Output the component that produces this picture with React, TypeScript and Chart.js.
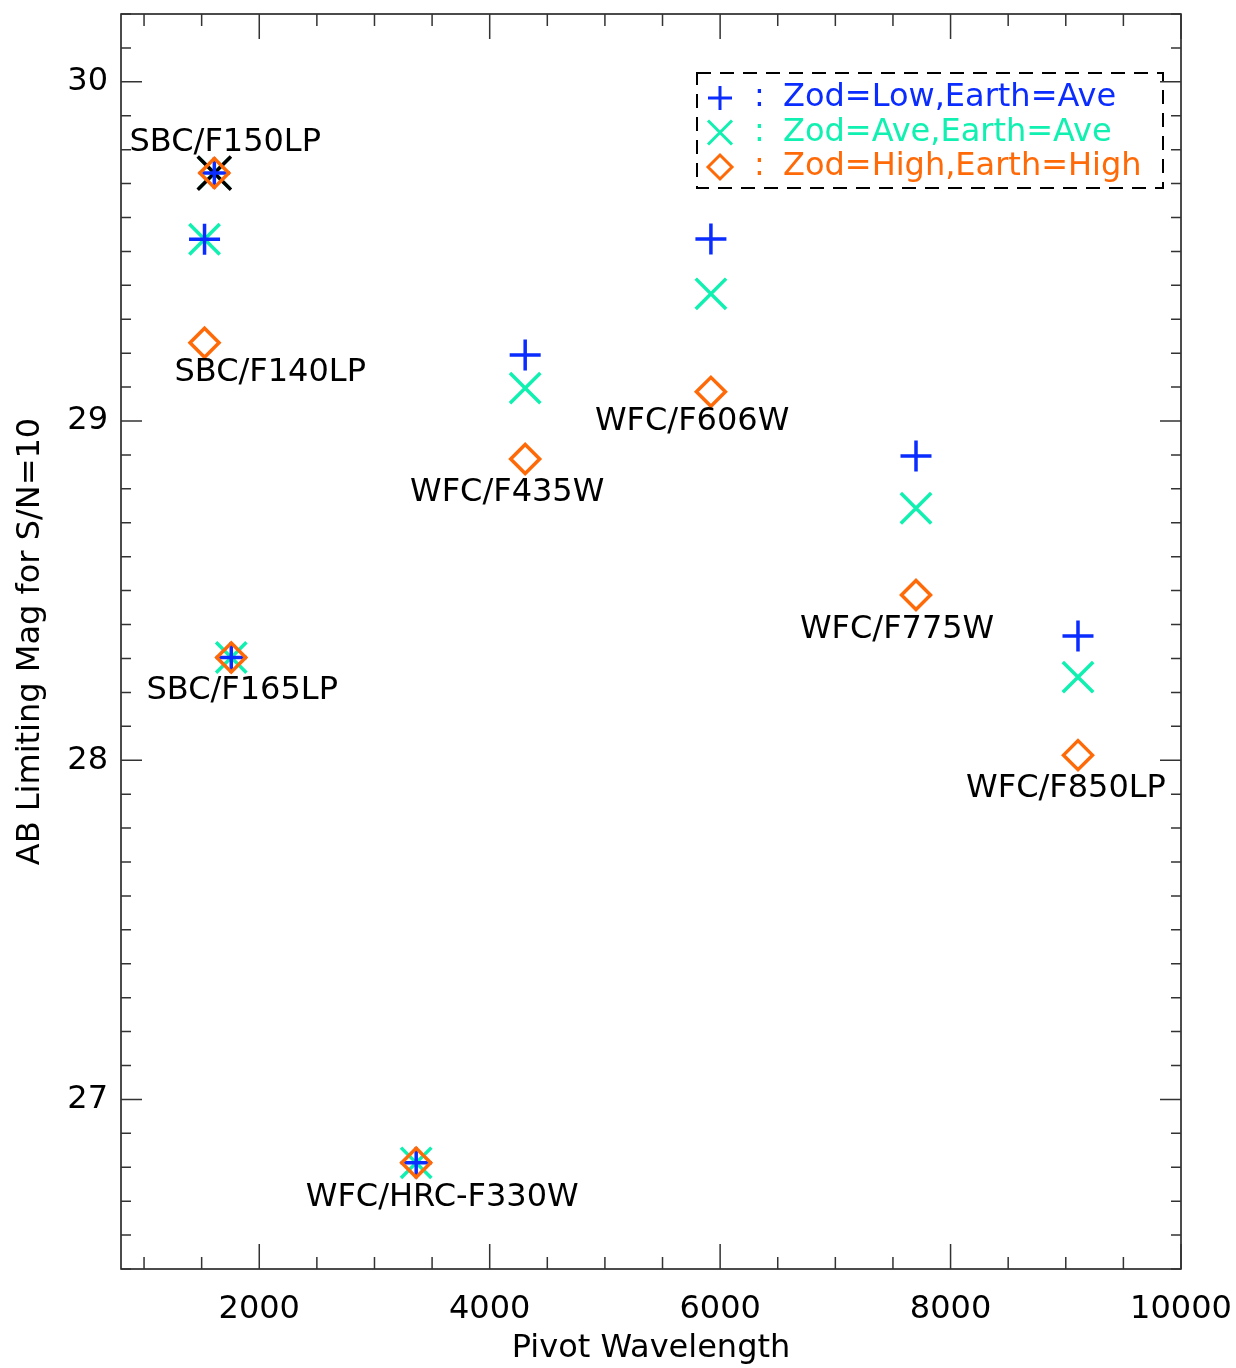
import React, { useEffect, useRef } from "react";
import { Chart, registerables } from "chart.js";

Chart.register(...registerables);

// ---- data ----
const filterNames = [
  "SBC/F150LP",
  "SBC/F140LP",
  "SBC/F165LP",
  "WFC/HRC-F330W",
  "WFC/F435W",
  "WFC/F606W",
  "WFC/F775W",
  "WFC/F850LP",
];
const pivotWavelength = [1610, 1525, 1757, 3362, 4308, 5920, 7700, 9106];
const magZodLow = [29.731, 29.536, 28.303, 26.813, 29.195, 29.537, 28.897, 28.366];
const magZodAve = [29.731, 29.536, 28.303, 26.813, 29.097, 29.375, 28.743, 28.245];
const magZodHigh = [29.731, 29.231, 28.303, 26.813, 28.888, 29.086, 28.487, 28.015];
// extra black marker at SBC/F150LP
const markWave = [1610];
const markMag = [29.731];
// filter label anchors (data coordinates)
const labelWave = [1705, 2095, 1852, 3588, 4152, 5757, 7536, 9002];
const labelMag = [29.829, 29.15, 28.215, 26.72, 28.799, 29.006, 28.395, 27.926];

const legendLabels = [
  "Zod=Low,Earth=Ave",
  "Zod=Ave,Earth=Ave",
  "Zod=High,Earth=High",
];

const xTickValues = [2000, 4000, 6000, 8000, 10000];
const yTickValues = [27, 28, 29, 30];
const xMinorStep = 500;
const yMinorStep = 0.1;

const BLUE = "#0a2cff";
const GREEN = "#10f0b0";
const ORANGE = "#ff6a08";
const FONT = "'DejaVu Sans', sans-serif";

const pts = (xs: number[], ys: number[]) => xs.map((x, i) => ({ x, y: ys[i] }));

const framePlugin = {
  id: "frame",
  afterDatasetsDraw(chart: any) {
    const { ctx, chartArea: a, scales } = chart;
    const xs = scales.x;
    const ys = scales.y;
    ctx.save();
    // frame
    ctx.strokeStyle = "#111";
    ctx.lineWidth = 1.5;
    ctx.strokeRect(a.left, a.top, a.right - a.left, a.bottom - a.top);
    // ticks
    ctx.strokeStyle = "#333";
    ctx.lineWidth = 1.5;
    const isMajor = (v: number, arr: number[]) => arr.some((t) => Math.abs(t - v) < 1e-6);
    for (let v = Math.ceil(xs.min / xMinorStep) * xMinorStep; v <= xs.max + 1e-6; v += xMinorStep) {
      const px = xs.getPixelForValue(v);
      const len = isMajor(v, xTickValues) ? 25 : 12;
      ctx.beginPath();
      ctx.moveTo(px, a.bottom);
      ctx.lineTo(px, a.bottom - len);
      ctx.moveTo(px, a.top);
      ctx.lineTo(px, a.top + len);
      ctx.stroke();
    }
    const n0 = Math.ceil(ys.min / yMinorStep - 1e-6);
    const n1 = Math.floor(ys.max / yMinorStep + 1e-6);
    for (let n = n0; n <= n1; n++) {
      const v = n * yMinorStep;
      const py = ys.getPixelForValue(v);
      const len = isMajor(v, yTickValues) ? 21 : 10;
      ctx.beginPath();
      ctx.moveTo(a.left, py);
      ctx.lineTo(a.left + len, py);
      ctx.moveTo(a.right, py);
      ctx.lineTo(a.right - len, py);
      ctx.stroke();
    }
    // filter labels
    ctx.fillStyle = "#000";
    ctx.font = `32px ${FONT}`;
    ctx.textAlign = "center";
    ctx.textBaseline = "middle";
    filterNames.forEach((name, i) => {
      ctx.fillText(name, xs.getPixelForValue(labelWave[i]), ys.getPixelForValue(labelMag[i]) + 3);
    });
    // legend
    const bx0 = a.left + 576, by0 = a.top + 59, bx1 = a.left + 1042, by1 = a.top + 174;
    ctx.setLineDash([14, 9]);
    ctx.strokeStyle = "#000";
    ctx.lineWidth = 2;
    ctx.strokeRect(bx0, by0, bx1 - bx0, by1 - by0);
    ctx.setLineDash([]);
    const ds = chart.data.datasets;
    ctx.textAlign = "left";
    for (let i = 0; i < 3; i++) {
      const cy = by0 + 25 + i * 34.5;
      const d = ds[i];
      ctx.strokeStyle = d.borderColor;
      ctx.lineWidth = 3;
      const cx = bx0 + 23;
      const r = 12;
      ctx.beginPath();
      if (d.pointStyle === "cross") {
        ctx.moveTo(cx - r, cy); ctx.lineTo(cx + r, cy);
        ctx.moveTo(cx, cy - r); ctx.lineTo(cx, cy + r);
      } else if (d.pointStyle === "crossRot") {
        ctx.moveTo(cx - r, cy - r); ctx.lineTo(cx + r, cy + r);
        ctx.moveTo(cx + r, cy - r); ctx.lineTo(cx - r, cy + r);
      } else {
        ctx.moveTo(cx - r, cy); ctx.lineTo(cx, cy - r);
        ctx.lineTo(cx + r, cy); ctx.lineTo(cx, cy + r); ctx.closePath();
      }
      ctx.stroke();
      ctx.fillStyle = d.borderColor;
      ctx.fillText(":", bx0 + 57, cy);
      ctx.fillText(legendLabels[i], bx0 + 86, cy);
    }
    ctx.restore();
  },
};

export default function App() {
  const ref = useRef<HTMLCanvasElement>(null);
  useEffect(() => {
    if (!ref.current) return;
    Chart.defaults.font.family = FONT;
    Chart.defaults.color = "#000";
    const chart = new Chart(ref.current, {
      type: "scatter",
      data: {
        datasets: [
          {
            label: legendLabels[0],
            data: pts(pivotWavelength, magZodLow),
            pointStyle: "cross",
            pointRadius: 15.5,
            borderColor: BLUE,
            backgroundColor: BLUE,
            borderWidth: 3.5,
            order: 2,
          },
          {
            label: legendLabels[1],
            data: pts(pivotWavelength, magZodAve),
            pointStyle: "crossRot",
            pointRadius: 21.5,
            borderColor: GREEN,
            backgroundColor: GREEN,
            borderWidth: 3.5,
            order: 4,
          },
          {
            label: legendLabels[2],
            data: pts(pivotWavelength, magZodHigh),
            pointStyle: "rectRot",
            pointRadius: 14.5,
            borderColor: ORANGE,
            backgroundColor: "rgba(0,0,0,0)",
            borderWidth: 3.5,
            order: 1,
          },
          {
            label: "marker",
            data: pts(markWave, markMag),
            pointStyle: "crossRot",
            pointRadius: 23.5,
            borderColor: "#000",
            backgroundColor: "#000",
            borderWidth: 3.5,
            order: 3,
          },
        ],
      },
      options: {
        animation: false,
        responsive: false,
        layout: { autoPadding: false, padding: { left: 0, right: 55, top: 14, bottom: 0 } },
        plugins: { legend: { display: false }, tooltip: { enabled: false } },
        scales: {
          x: {
            type: "linear",
            min: 800,
            max: 10000,
            grid: { display: false, drawTicks: false },
            border: { display: false },
            afterBuildTicks: (s: any) => {
              s.ticks = xTickValues.map((v) => ({ value: v }));
            },
            ticks: {
              font: { size: 32 },
              color: "#000",
              padding: 21,
              maxRotation: 0,
              autoSkip: false,
              callback: (v: any) => String(v),
            },
            title: {
              display: true,
              text: "Pivot Wavelength",
              font: { size: 32 },
              color: "#000",
              padding: { top: 0, bottom: 0 },
            },
            afterFit: (s: any) => {
              s.height = 99;
              s.paddingLeft = 0; s.paddingRight = 0; s.paddingTop = 0; s.paddingBottom = 0;
            },
          },
          y: {
            type: "linear",
            min: 26.5,
            max: 30.2,
            grid: { display: false, drawTicks: false },
            border: { display: false },
            afterBuildTicks: (s: any) => {
              s.ticks = yTickValues.map((v) => ({ value: v }));
            },
            ticks: {
              font: { size: 32 },
              color: "#000",
              padding: 13,
              autoSkip: false,
              callback: (v: any) => String(v),
            },
            title: {
              display: true,
              text: "AB Limiting Mag for S/N=10",
              font: { size: 32 },
              color: "#000",
              padding: { top: 11, bottom: 0 },
            },
            afterFit: (s: any) => {
              s.width = 121;
              s.paddingLeft = 0; s.paddingRight = 0; s.paddingTop = 0; s.paddingBottom = 0;
            },
          },
        },
      },
      plugins: [framePlugin],
    });
    return () => chart.destroy();
  }, []);
  return (
    <div style={{ position: "absolute", left: 0, top: 0, width: 1236, height: 1368, background: "#fff" }}>
      <canvas ref={ref} width={1236} height={1368} style={{ width: 1236, height: 1368 }} />
    </div>
  );
}
